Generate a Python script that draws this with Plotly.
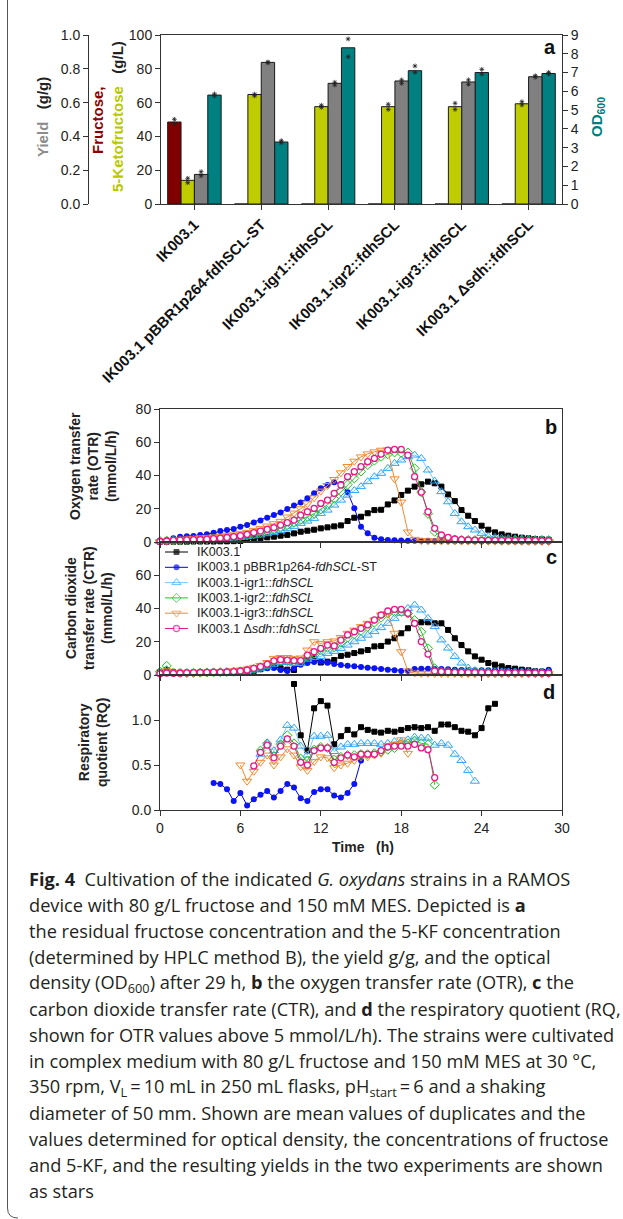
import plotly.graph_objects as go

W, H = 623, 1219

# ---------------- panel a data ----------------
STRAINS = ["IK003.1", "IK003.1 pBBR1p264-fdhSCL-ST", "IK003.1-igr1::fdhSCL",
           "IK003.1-igr2::fdhSCL", "IK003.1-igr3::fdhSCL", "IK003.1 \u0394sdh::fdhSCL"]
FRUCTOSE = [48.5, 0, 0, 0, 0, 0]            # g/L
KETOFRUCTOSE = [14.0, 64.8, 57.6, 57.6, 57.6, 59.3]  # g/L
YIELD = [0.175, 0.838, 0.714, 0.728, 0.722, 0.753]   # g/g
OD600 = [5.8, 3.3, 8.32, 7.1, 7.0, 6.95]

FRU_EXP1 = [50.1, None, None, None, None, None]
FRU_EXP2 = [47.3, None, None, None, None, None]
KF_EXP1 = [15.2, 65.0, 58.4, 59.0, 59.6, 60.5]
KF_EXP2 = [12.6, 64.0, 57.2, 56.0, 56.0, 58.6]
YIELD_EXP1 = [0.191, 0.840, 0.720, 0.734, 0.734, 0.759]
YIELD_EXP2 = [0.167, 0.835, 0.704, 0.714, 0.708, 0.750]
OD_EXP1 = [5.86, 3.37, 8.79, 7.35, 7.17, 7.01]
OD_EXP2 = [5.75, 3.26, 7.84, 7.01, 6.92, 6.92]

# ---------------- panels b-d data ----------------
TIME = [0.0, 0.5, 1.0, 1.5, 2.0, 2.5, 3.0, 3.5, 4.0, 4.5, 5.0, 5.5, 6.0, 6.5, 7.0, 7.5,
        8.0, 8.5, 9.0, 9.5, 10.0, 10.5, 11.0, 11.5, 12.0, 12.5, 13.0, 13.5, 14.0, 14.5,
        15.0, 15.5, 16.0, 16.5, 17.0, 17.5, 18.0, 18.5, 19.0, 19.5, 20.0, 20.5, 21.0,
        21.5, 22.0, 22.5, 23.0, 23.5, 24.0, 24.5, 25.0, 25.5, 26.0, 26.5, 27.0, 27.5,
        28.0, 28.5, 29.0]

LEGEND_NAMES = ["IK003.1", "IK003.1 pBBR1p264-<i>fdhSCL</i>-ST", "IK003.1-igr1::<i>fdhSCL</i>",
                "IK003.1-igr2::<i>fdhSCL</i>", "IK003.1-igr3::<i>fdhSCL</i>",
                "IK003.1 \u0394<i>sdh</i>::<i>fdhSCL</i>"]

OTR_BLACK = [0.2, 0.2, 0.2, 0.2, 0.2, 0.3, 0.3, 0.3, 0.3, 0.4,
             0.4, 0.5, 0.6, 1.2, 2.0, 2.3, 2.8, 3.2, 3.8, 4.3,
             5.2, 6.2, 6.8, 7.4, 8.2, 8.8, 9.4, 10.0, 12.6, 14.6,
             15.2, 17.3, 19.2, 19.4, 22.6, 25.0, 28.3, 30.9, 33.3, 34.7,
             36.3, 35.3, 33.3, 28.6, 24.6, 19.2, 15.8, 12.6, 9.8, 7.4,
             5.8, 4.6, 3.8, 3.2, 2.6, 2.2, 1.8, 1.6, 1.4]
OTR_BLUE = [0.5, 1.2, 2.2, 3.2, 3.4, 3.6, 4.2, 4.6, 5.6, 6.6,
            7.2, 7.8, 9.2, 10.2, 11.8, 13.0, 14.6, 16.2, 17.8, 19.8,
            21.9, 23.7, 26.3, 29.3, 32.3, 34.3, 35.9, 34.9, 29.9, 20.3,
            9.2, 5.2, 2.6, 1.6, 1.2, 1.0, 0.9, 0.8, 0.8, 0.8,
            0.7, 0.6, 0.6, 0.6, 0.5, 0.5, 0.5, 0.5, 0.5, 0.5,
            0.5, 0.5, 0.5, 0.5, 0.5, 0.5, 0.5, 0.5, 0.5]
OTR_IGR1 = [0.3, 0.5, 0.7, 0.8, 0.9, 1.0, 1.1, 1.3, 1.5, 1.8,
            2.1, 2.4, 2.8, 3.2, 3.7, 4.2, 5.0, 5.8, 6.8, 8.0,
            9.4, 11.2, 12.6, 14.2, 17.2, 19.2, 22.2, 25.2, 28.2, 31.0,
            33.3, 36.3, 39.3, 41.3, 44.3, 47.3, 49.3, 51.3, 52.3, 50.3,
            43.3, 36.7, 30.3, 24.2, 17.2, 12.2, 9.2, 7.2, 5.2, 3.2,
            2.8, 2.2, 2.0, 1.9, 1.8, 1.7, 1.6, 1.6, 1.5]
OTR_IGR2 = [0.6, 0.8, 0.9, 1.0, 1.1, 1.2, 1.3, 1.5, 1.7, 2.0,
            2.4, 2.8, 3.3, 3.9, 4.6, 5.4, 6.4, 7.4, 8.6, 10.0,
            11.6, 13.4, 15.2, 17.0, 19.6, 22.4, 26.0, 30.3, 34.5, 38.3,
            42.4, 46.3, 49.0, 51.3, 52.8, 53.9, 53.6, 53.8, 44.3, 30.0,
            17.0, 6.2, 3.0, 2.0, 1.5, 1.3, 1.2, 1.1, 1.0, 1.0,
            1.0, 0.9, 0.9, 0.9, 0.8, 0.8, 0.8, 0.8, 0.8]
OTR_IGR3 = [0.2, 0.5, 1.0, 1.4, 1.8, 2.2, 2.5, 2.8, 3.0, 3.4,
            3.8, 4.3, 5.0, 5.8, 7.0, 8.2, 9.6, 11.0, 12.4, 15.0,
            17.4, 20.0, 23.0, 26.6, 30.6, 34.0, 37.6, 41.6, 45.4, 48.6,
            51.2, 53.0, 54.2, 55.2, 55.4, 38.0, 24.0, 6.0, 1.6, 0.8,
            0.7, 0.6, 0.6, 0.6, 0.6, 0.5, 0.5, 0.5, 0.5, 0.5,
            0.5, 0.5, 0.5, 0.5, 0.5, 0.5, 0.5, 0.4, 0.4]
OTR_SDH = [0.3, 0.6, 1.0, 1.2, 1.3, 1.4, 1.5, 1.7, 2.0, 2.3,
           2.7, 3.2, 3.8, 4.6, 5.6, 6.6, 7.6, 8.6, 10.2, 11.6,
           13.2, 16.2, 18.2, 20.2, 23.2, 25.2, 29.3, 34.3, 39.3, 42.3,
           45.3, 48.3, 50.3, 52.9, 55.3, 55.7, 55.7, 52.3, 39.3, 30.0,
           18.2, 8.2, 4.2, 2.8, 1.8, 1.4, 1.2, 1.1, 1.0, 1.0,
           1.0, 0.9, 0.9, 0.8, 0.8, 0.8, 0.8, 0.7, 0.7]

CTR_BLACK = [1.5, 3.0, 1.6, 1.4, 1.4, 1.4, 1.5, 1.5, 1.5, 1.6,
             1.6, 1.6, 1.6, 2.0, 2.5, 3.5, 4.5, 5.0, 4.0, 3.2,
             3.0, 8.0, 9.0, 10.0, 7.5, 8.0, 9.0, 11.5, 12.2, 13.2,
             14.2, 15.0, 17.2, 17.5, 20.1, 22.1, 25.1, 28.1, 31.1, 31.7,
             31.7, 31.1, 31.1, 27.1, 22.1, 18.0, 14.2, 11.2, 9.2, 7.2,
             6.2, 5.2, 4.2, 3.8, 3.2, 2.8, 2.2, 2.0, 2.0]
CTR_BLUE = [1.5, 2.0, 1.5, 1.4, 1.4, 1.5, 1.6, 1.6, 1.8, 1.8,
            2.0, 2.0, 2.2, 2.5, 3.0, 3.4, 4.0, 4.2, 3.0, 2.4,
            4.0, 6.2, 7.2, 7.8, 8.0, 7.4, 6.6, 6.0, 5.6, 5.2,
            4.8, 4.4, 4.0, 3.6, 3.2, 2.8, 2.4, 2.4, 3.6, 3.8,
            3.8, 3.6, 3.6, 3.4, 3.2, 3.0, 3.0, 2.8, 2.8, 2.8,
            3.0, 2.8, 2.6, 2.6, 2.4, 2.4, 2.2, 2.2, 3.2]
CTR_IGR1 = [1.5, 3.0, 1.2, 1.0, 1.0, 1.1, 1.2, 1.3, 1.4, 1.5,
            1.6, 1.8, 2.0, 2.4, 3.0, 3.8, 5.0, 6.5, 7.5, 7.5,
            7.0, 7.0, 9.5, 10.5, 11.2, 13.0, 14.2, 16.0, 18.0, 20.0,
            22.1, 24.0, 26.1, 28.5, 31.1, 34.1, 37.1, 40.1, 42.1, 39.1,
            34.1, 29.1, 21.1, 16.2, 11.2, 7.2, 4.2, 2.6, 1.8, 1.6,
            1.5, 1.5, 1.5, 1.4, 1.4, 1.4, 1.4, 1.4, 1.4]
CTR_IGR2 = [2.0, 5.5, 1.5, 1.2, 1.2, 1.3, 1.4, 1.5, 1.6, 1.7,
            1.8, 2.0, 2.2, 2.8, 3.6, 4.6, 6.0, 8.0, 8.6, 8.4,
            8.0, 8.0, 11.0, 13.0, 15.0, 16.5, 16.8, 19.5, 22.5, 24.5,
            26.5, 29.0, 31.5, 34.5, 37.0, 38.0, 38.0, 37.0, 33.0, 26.0,
            16.0, 4.0, 2.0, 1.8, 1.6, 1.5, 1.5, 1.4, 1.4, 1.4,
            1.4, 1.4, 1.3, 1.3, 1.3, 1.3, 1.2, 1.2, 1.2]
CTR_IGR3 = [1.0, 2.5, 1.2, 1.2, 1.3, 1.4, 1.5, 1.6, 1.8, 2.0,
            2.2, 2.5, 3.0, 3.6, 4.6, 5.8, 7.5, 10.0, 10.5, 10.5,
            10.0, 10.2, 15.0, 20.0, 19.0, 20.0, 20.5, 22.5, 25.1, 27.0,
            29.1, 31.1, 33.1, 36.1, 37.1, 25.1, 14.0, 2.4, 1.2, 1.0,
            1.0, 0.9, 0.9, 0.9, 0.9, 0.8, 0.8, 0.8, 0.8, 0.8,
            0.8, 0.8, 0.8, 0.8, 0.8, 0.8, 0.8, 0.8, 0.8]
CTR_SDH = [0.8, 1.2, 1.0, 1.1, 1.3, 1.4, 1.5, 1.6, 1.7, 1.7,
           1.8, 2.0, 2.4, 3.0, 4.0, 5.0, 6.5, 8.5, 9.2, 9.0,
           8.6, 8.6, 12.0, 14.0, 16.0, 18.0, 17.5, 21.0, 24.1, 26.0,
           28.1, 30.1, 33.1, 36.1, 38.5, 39.5, 39.5, 37.1, 31.1, 20.1,
           12.6, 2.4, 2.0, 1.8, 1.6, 1.6, 1.5, 1.5, 1.4, 1.4,
           1.4, 1.3, 1.3, 1.3, 1.3, 1.2, 1.2, 1.2, 1.2]

# RQ (only shown where OTR > 5 mmol/L/h): first sampling time and values
RQ_BLACK_START = 10.0
RQ_BLACK = [1.40, 0.83, 0.66, 1.13, 1.21, 1.16, 0.73, 0.82, 0.89, 0.84, 0.92, 0.89,
            0.87, 0.86, 0.88, 0.87, 0.89, 0.91, 0.92, 0.91, 0.92, 0.88, 0.95, 0.95,
            0.92, 0.88, 0.87, 0.83, 0.91, 1.13, 1.18]
RQ_BLUE_START = 4.0
RQ_BLUE = [0.30, 0.29, 0.23, 0.10, 0.19, 0.05, 0.12, 0.17, 0.21, 0.14, 0.21, 0.29,
           0.25, 0.13, 0.10, 0.20, 0.23, 0.23, 0.16, 0.14, 0.19, 0.29, 0.55]
RQ_IGR1_START = 7.5
RQ_IGR1 = [0.62, 0.74, 0.66, 0.78, 0.94, 0.91, 0.71, 0.61, 0.82, 0.82, 0.83, 0.65,
           0.70, 0.73, 0.73, 0.74, 0.74, 0.74, 0.73, 0.74, 0.76, 0.76, 0.78, 0.81,
           0.80, 0.80, 0.72, 0.74, 0.72, 0.62, 0.55, 0.44, 0.32]
RQ_IGR2_START = 7.5
RQ_IGR2 = [0.66, 0.74, 0.60, 0.73, 0.83, 0.74, 0.57, 0.55, 0.67, 0.70, 0.69, 0.56,
           0.59, 0.61, 0.61, 0.62, 0.62, 0.63, 0.65, 0.67, 0.69, 0.73, 0.74, 0.77,
           0.74, 0.73, 0.28]
RQ_IGR3_START = 6.0
RQ_IGR3 = [0.50, 0.32, 0.43, 0.53, 0.61, 0.50, 0.59, 0.68, 0.61, 0.48, 0.44, 0.54,
           0.59, 0.58, 0.47, 0.50, 0.52, 0.55, 0.59, 0.59, 0.61, 0.63, 0.71, 0.73,
           0.78, 0.63]
RQ_SDH_START = 7.0
RQ_SDH = [0.49, 0.64, 0.72, 0.58, 0.71, 0.79, 0.71, 0.53, 0.50, 0.66, 0.69, 0.69,
          0.53, 0.58, 0.61, 0.59, 0.62, 0.62, 0.62, 0.66, 0.70, 0.71, 0.71, 0.71,
          0.73, 0.69, 0.67, 0.36]

CAPTION = [
    "<b>Fig.\u00a04</b>\u00a0\u00a0Cultivation of the indicated <i>G. oxydans</i> strains in a RAMOS",
    "device with 80 g/L fructose and 150 mM MES. Depicted is <b>a</b>",
    "the residual fructose concentration and the 5-KF concentration",
    "(determined by HPLC method B), the yield g/g, and the optical",
    "density (OD<sub>600</sub>) after 29 h, <b>b</b> the oxygen transfer rate (OTR), <b>c</b> the",
    "carbon dioxide transfer rate (CTR), and <b>d</b> the respiratory quotient (RQ,",
    "shown for OTR values above 5 mmol/L/h). The strains were cultivated",
    "in complex medium with 80 g/L fructose and 150 mM MES at 30 \u00b0C,",
    "350 rpm, V<sub>L</sub>\u2009=\u200910 mL in 250 mL flasks, pH<sub>start</sub>\u2009=\u20096 and a shaking",
    "diameter of 50 mm. Shown are mean values of duplicates and the",
    "values determined for optical density, the concentrations of fructose",
    "and 5-KF, and the resulting yields in the two experiments are shown",
    "as stars",
]

# ---------------- helpers ----------------
FONT = "Liberation Sans, Arial, sans-serif"
def px(x):
    return x / W
def py(y):
    return 1 - y / H

fig = go.Figure()

# ---------------- panel a ----------------
idx = list(range(len(STRAINS)))
BAR_W = 0.2
bar_specs = [
    (FRUCTOSE, FRU_EXP1, FRU_EXP2, "y", "#800000", -0.4),
    (KETOFRUCTOSE, KF_EXP1, KF_EXP2, "y", "#bfcc00", -0.2),
    (YIELD, YIELD_EXP1, YIELD_EXP2, "y3", "#808080", 0.0),
    (OD600, OD_EXP1, OD_EXP2, "y2", "#008080", 0.2),
]
for vals, e1, e2, yax, col, off in bar_specs:
    fig.add_trace(go.Bar(x=idx, y=vals, width=BAR_W, offset=off,
                         marker=dict(color=col, line=dict(color="#1a1a1a", width=1)),
                         xaxis="x", yaxis=yax, showlegend=False, hoverinfo="skip"))
for vals, e1, e2, yax, col, off in bar_specs:
    xs = [i + off + BAR_W / 2 for i in idx]
    for e in (e1, e2):
        fig.add_trace(go.Scatter(x=xs, y=e, mode="markers", xaxis="x", yaxis=yax,
                                 marker=dict(symbol="asterisk", size=4,
                                             line=dict(color="#222", width=0.8)),
                                 showlegend=False, hoverinfo="skip", cliponaxis=False))

# ---------------- panels b, c, d ----------------
STYLES = [
    dict(line="#000000", marker=dict(symbol="square", size=5, color="#000000",
                                     line=dict(color="#000000", width=1))),
    dict(line="#0000dd", marker=dict(symbol="circle", size=6, color="#0a14f5",
                                     line=dict(color="#0a14f5", width=0))),
    dict(line="#7cc6ff", marker=dict(symbol="triangle-up-open", size=8, color="#2aa5ff",
                                     line=dict(color="#2aa5ff", width=1))),
    dict(line="#1ec81e", marker=dict(symbol="diamond-open", size=7, color="#1ec81e",
                                     line=dict(color="#1ec81e", width=1))),
    dict(line="#f28a2e", marker=dict(symbol="triangle-down-open", size=8, color="#f28a2e",
                                     line=dict(color="#f28a2e", width=1))),
    dict(line="#e8198a", marker=dict(symbol="circle", size=6, color="#ffffff",
                                     line=dict(color="#e8198a", width=1.3))),
]
OTR = [OTR_BLACK, OTR_BLUE, OTR_IGR1, OTR_IGR2, OTR_IGR3, OTR_SDH]
CTR = [CTR_BLACK, CTR_BLUE, CTR_IGR1, CTR_IGR2, CTR_IGR3, CTR_SDH]
RQ = [(RQ_BLACK_START, RQ_BLACK), (RQ_BLUE_START, RQ_BLUE), (RQ_IGR1_START, RQ_IGR1),
      (RQ_IGR2_START, RQ_IGR2), (RQ_IGR3_START, RQ_IGR3), (RQ_SDH_START, RQ_SDH)]

for k in range(6):
    st = STYLES[k]
    for yv, xa, ya in ((OTR[k], "x2", "y4"), (CTR[k], "x3", "y5")):
        fig.add_trace(go.Scatter(x=TIME, y=yv, mode="lines+markers", xaxis=xa, yaxis=ya,
                                 line=dict(color=st["line"], width=1), marker=st["marker"],
                                 showlegend=False, hoverinfo="skip", cliponaxis=False))
    t0, vals = RQ[k]
    i0 = TIME.index(t0)
    fig.add_trace(go.Scatter(x=TIME[i0:i0 + len(vals)], y=vals, mode="lines+markers",
                             xaxis="x4", yaxis="y6",
                             line=dict(color=st["line"], width=1), marker=st["marker"],
                             showlegend=False, hoverinfo="skip", cliponaxis=False))

# manual legend inside panel c (pixel-coordinate overlay axes)
LEG_Y0, LEG_DY = 552, 15.3
for k in range(6):
    st = STYLES[k]
    yrow = LEG_Y0 + LEG_DY * k
    mk = dict(st["marker"])
    mk["size"] = [0, st["marker"]["size"], 0]
    fig.add_trace(go.Scatter(x=[165, 176.5, 188], y=[yrow] * 3, mode="lines+markers",
                             xaxis="x5", yaxis="y7", line=dict(color=st["line"], width=1),
                             marker=mk, showlegend=False, hoverinfo="skip"))

# ---------------- axes ----------------
tickfont = dict(family=FONT, size=14, color="#222")
common = dict(showline=True, linecolor="#333", linewidth=1, ticks="outside", ticklen=5,
              tickcolor="#333", tickwidth=1, showgrid=False, zeroline=False,
              tickfont=tickfont, automargin=False)

XA = [px(161), px(562)]
XB = [px(160), px(562)]
layout_axes = dict(
    xaxis=dict(common, domain=XA, range=[-0.5, 5.5], anchor="y", tickvals=idx,
               ticktext=["<b>%s</b>" % s for s in STRAINS], tickangle=-45, mirror=True,
               tickfont=dict(family=FONT, size=15, color="#111")),
    yaxis=dict(common, domain=[py(204), py(35)], range=[0, 100], dtick=20, anchor="x"),
    yaxis2=dict(common, overlaying="y", side="right", anchor="x", range=[0, 9], dtick=1),
    yaxis3=dict(common, overlaying="y", anchor="free", position=px(88), side="left",
                range=[0, 1], dtick=0.2, tickformat=".1f"),
    xaxis2=dict(common, domain=XB, range=[0, 30], dtick=6, anchor="y4",
                showticklabels=False, mirror=True),
    xaxis3=dict(common, domain=XB, range=[0, 30], dtick=6, anchor="y5",
                showticklabels=False, mirror=True),
    xaxis4=dict(common, domain=XB, range=[0, 30], dtick=6, anchor="y6", mirror=True),
    yaxis4=dict(common, domain=[py(542), py(409)], range=[0, 80], dtick=20, anchor="x2",
                mirror=True),
    yaxis5=dict(common, domain=[py(675), py(542)], range=[0, 80], tickvals=[0, 20, 40, 60],
                anchor="x3", mirror=True),
    yaxis6=dict(common, domain=[py(810), py(675)], range=[0, 1.5], tickvals=[0, 0.5, 1.0],
                ticktext=["0.0", "0.5", "1.0"], anchor="x4", mirror=True),
    xaxis5=dict(domain=[0, 1], range=[0, W], visible=False, anchor="y7", fixedrange=True),
    yaxis7=dict(domain=[0, 1], range=[H, 0], visible=False, anchor="x5", fixedrange=True),
)

# ---------------- annotations ----------------
ann = []
def note(text, x, y, size=14, color="#222", angle=0, xanchor="center", family=FONT,
         yanchor="middle"):
    ann.append(dict(text=text, x=px(x), y=py(y), xref="paper", yref="paper",
                    showarrow=False, textangle=angle, xanchor=xanchor, yanchor=yanchor,
                    font=dict(family=family, size=size, color=color)))

NB = "\u00a0"
note("<b><span style='color:#8c8c8c'>Yield</span>" + NB * 3 + "(g/g)</b>", 42, 117, 15,
     angle=-90)
note("<b>Fructose,</b>", 97, 120, 15, color="#8b0000", angle=-90)
note("<b><span style='color:#b8c800'>5-Ketofructose</span>" + NB * 3 + "(g/L)</b>", 117, 117,
     15, angle=-90)
note("<b>OD<sub>600</sub></b>", 597, 117, 15, color="#007c7c", angle=-90)
note("<b>a</b>", 550, 47, 20, color="#111")
note("<b>b</b>", 551, 427, 20, color="#111")
note("<b>c</b>", 551, 557, 20, color="#111")
note("<b>d</b>", 549, 692, 20, color="#111")
note("<b>Oxygen transfer<br>rate (OTR)<br>(mmol/L/h)</b>", 93, 466, 14, angle=-90)
note("<b>Carbon dioxide<br>transfer rate (CTR)<br>(mmol/L/h)</b>", 89, 608, 14, angle=-90)
note("<b>Respiratory<br>quotient (RQ)</b>", 93, 743, 14, angle=-90)
note("<b>Time" + NB * 3 + "(h)</b>", 363, 847, 14)

for k, name in enumerate(LEGEND_NAMES):
    note(name, 195, LEG_Y0 + LEG_DY * k, 12.5, color="#222", xanchor="left")

for k, line in enumerate(CAPTION):
    note(line, 27, 879 + 26 * k, 18.2, color="#231f20", xanchor="left",
         family="Open Sans, Noto Sans, sans-serif")

# page border (left edge with rounded bottom corner)
shapes = [dict(type="path", xref="paper", yref="paper",
               path="M %f %f L %f %f Q %f %f %f %f" % (px(7.5), py(0), px(7.5), py(1208),
                                                        px(7.5), py(1218), px(18), py(1218)),
               line=dict(color="#555", width=1))]

fig.update_layout(
    width=W, height=H, margin=dict(l=0, r=0, t=0, b=0, pad=0), autosize=False,
    template="none", paper_bgcolor="white", plot_bgcolor="rgba(0,0,0,0)",
    barmode="overlay", showlegend=False, annotations=ann, shapes=shapes,
    font=dict(family=FONT, size=14, color="#222"),
    **layout_axes,
)

fig.write_html("out.html", config={"displayModeBar": False},
               post_script="document.body.style.margin='0px';")
